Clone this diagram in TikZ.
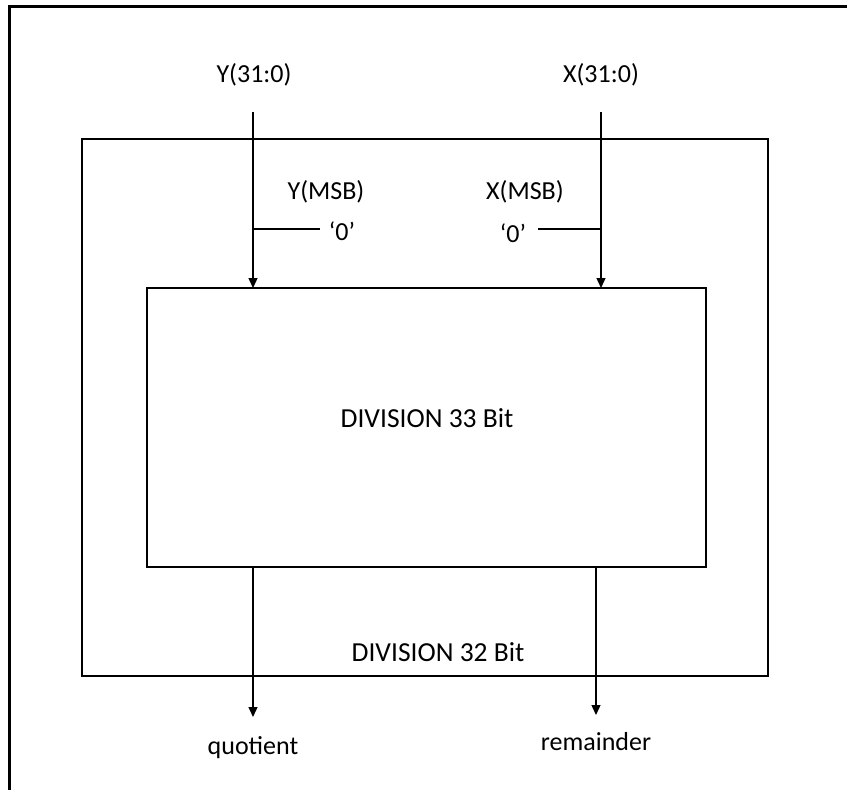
\documentclass[tikz,border=0pt]{standalone}
\usepackage{fontspec}
\setmainfont{Carlito}
\usetikzlibrary{arrows.meta}
\tikzset{
  blk/.style={draw, line width=1.5pt, inner sep=0pt, outer sep=0pt},
  lbl/.style={inner sep=0pt, font=\fontsize{26}{31}\selectfont},
  biglbl/.style={inner sep=0pt, font=\fontsize{27.5}{33}\selectfont},
  sig/.style={line width=1.3pt},
  arr/.style={sig, -{Triangle[length=10pt, width=9pt]}},
  frame/.style={line width=3pt}
}
\begin{document}
\begin{tikzpicture}[x=1pt, y=-1pt]
\useasboundingbox (0,0) rectangle (847,790);
% page frame
\coordinate (ftr) at (847,6.3);
\coordinate (ftl) at (9.5,6.3);
\coordinate (fbl) at (9.5,790);
\draw[frame] (ftr) -- (ftl) -- (fbl);
% boxes
\node[blk, minimum width=686pt, minimum height=537pt] (outer) at (425,407.5) {};
\node[blk, minimum width=559pt, minimum height=279pt] (inner) at (426.5,427.5) {};
\node[biglbl] (div33) at (427,418) {DIVISION 33 Bit};
\node[biglbl] (div32) at (438,652) {DIVISION 32 Bit};
% inputs
\node[lbl] (ylab) at (254,75) {Y(31:0)};
\node[lbl] (xlab) at (601,75) {X(31:0)};
\coordinate (yin) at (253,112);
\coordinate (xin) at (601,112);
\draw[arr] (yin) -- (yin |- inner.north);
\draw[arr] (xin) -- (xin |- inner.north);
% MSB extension
\node[lbl] (ymsb) at (326,192) {Y(MSB)};
\node[lbl] (xmsb) at (525,192) {X(MSB)};
\node[lbl] (yzero) at (342,231) {‘0’};
\node[lbl] (xzero) at (513,233) {‘0’};
\coordinate (yj) at (253,229);
\coordinate (yend) at (320,229);
\coordinate (xj) at (601,229);
\coordinate (xend) at (538,229);
\draw[sig] (yj) -- (yend);
\draw[sig] (xend) -- (xj);
% outputs
\coordinate (qx) at (253,717);
\coordinate (rx) at (596,715);
\draw[arr] (qx |- inner.south) -- (qx);
\draw[arr] (rx |- inner.south) -- (rx);
\node[lbl] (quot) at (253,748) {quotient};
\node[lbl] (rem) at (596,742) {remainder};
\end{tikzpicture}
\end{document}
